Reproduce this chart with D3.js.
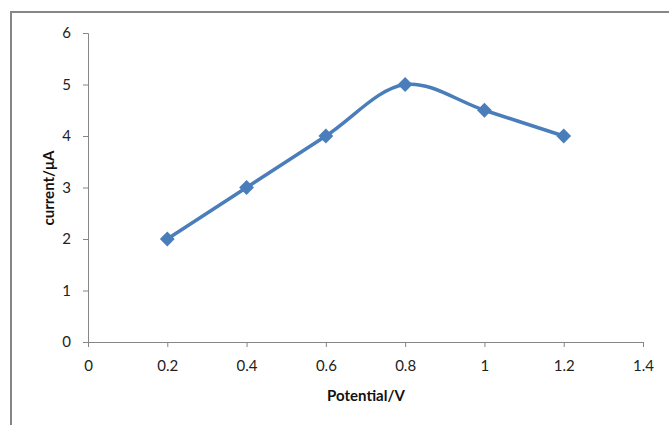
<!DOCTYPE html>
<html><head><meta charset="utf-8">
<script src="https://cdn.jsdelivr.net/npm/d3@7"></script>
<style>body{margin:0;background:#fff}svg{display:block}</style>
</head><body>
<svg id="c" width="669" height="425"></svg>
<script>
const potential = [0.2, 0.4, 0.6, 0.8, 1.0, 1.2];
const current = [2, 3, 4, 5, 4.5, 4];
const xTicks = [0, 0.2, 0.4, 0.6, 0.8, 1, 1.2, 1.4];
const yTicks = [0, 1, 2, 3, 4, 5, 6];
const xTitle = "Potential/V";
const yTitle = "current/μA";

(function () {
const svg = d3.select("#c");
const mLeft = 88, mRight = 643, mTop = 33, mBottom = 342;
const x = d3.scaleLinear().domain([0, 1.4]).range([mLeft, mRight]);
const y = d3.scaleLinear().domain([0, 6]).range([mBottom, mTop]);
const axisColor = "#868686";
const font = "Lato, 'Open Sans', sans-serif";

svg.append("rect").attr("x", 11).attr("y", 12).attr("width", 700).attr("height", 450)
  .attr("fill", "none").attr("stroke", axisColor).attr("stroke-width", 2);

const xa = svg.append("g").attr("transform", `translate(0,${mBottom})`)
  .call(d3.axisBottom(x).tickValues(xTicks).tickSize(5).tickPadding(13)
    .tickFormat(d => String(+d.toFixed(1))));
const ya = svg.append("g").attr("transform", `translate(${mLeft},0)`)
  .call(d3.axisLeft(y).tickValues(yTicks).tickSize(5).tickPadding(12).tickFormat(d3.format("d")));
[xa, ya].forEach(a => {
  a.select(".domain").attr("stroke", axisColor).attr("stroke-width", 1);
  a.selectAll(".tick line").attr("stroke", axisColor);
  a.selectAll(".tick text").attr("fill", "#222").style("font-family", font).style("font-size", "15px");
});

svg.append("text").attr("x", 366).attr("y", 401).attr("text-anchor", "middle")
  .style("font-family", font).style("font-size", "15px").style("font-weight", "bold").attr("fill", "#111")
  .text(xTitle);
svg.append("text").attr("transform", "translate(54,188) rotate(-90)").attr("text-anchor", "middle")
  .style("font-family", font).style("font-size", "15px").style("font-weight", "bold").attr("fill", "#111")
  .text(yTitle);

const data = potential.map((p, i) => [p, current[i]]);
const color = "#4a7ebb";
svg.append("path").datum(data)
  .attr("d", d3.line().x(d => x(d[0])).y(d => y(d[1])).curve(d3.curveCatmullRom.alpha(0.5)))
  .attr("fill", "none").attr("stroke", color).attr("stroke-width", 3.5);
svg.selectAll(".m").data(data).join("path").attr("class", "m")
  .attr("transform", d => `translate(${x(d[0])},${y(d[1])})`)
  .attr("d", d3.symbol(d3.symbolDiamond2, 140)())
  .attr("fill", color);
})();
</script>
</body></html>
